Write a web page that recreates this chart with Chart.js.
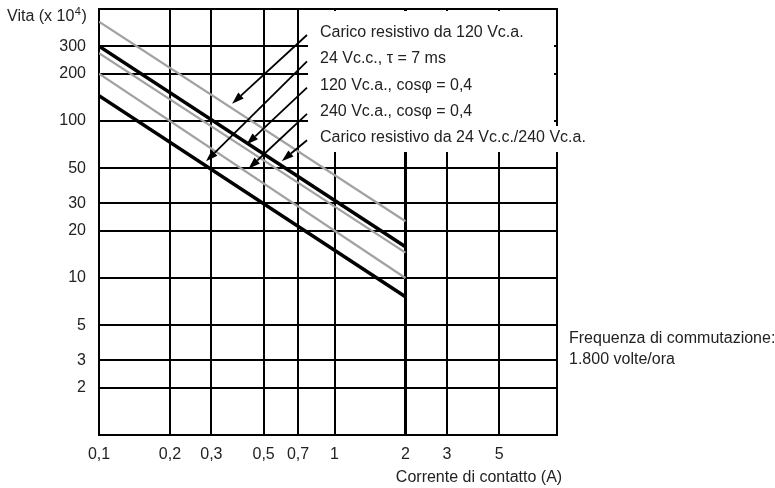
<!DOCTYPE html>
<html><head><meta charset="utf-8">
<script src="https://cdn.jsdelivr.net/npm/chart.js@4/dist/chart.umd.min.js"></script>
<style>html,body{margin:0;padding:0;background:#fff}canvas{display:block}</style>
</head><body>
<canvas id="c" width="775" height="488"></canvas>
<script>
// ---- data ----
const xTicks = [0.1, 0.2, 0.3, 0.5, 0.7, 1, 2, 3, 5];
const xTickLabels = ['0,1', '0,2', '0,3', '0,5', '0,7', '1', '2', '3', '5'];
const yTicks = [2, 3, 5, 10, 20, 30, 50, 100, 200, 300];
const yTickLabels = ['2', '3', '5', '10', '20', '30', '50', '100', '200', '300'];
const current = [0.1, 2];                 // Corrente di contatto (A)
const res120 = [430, 23];                 // Carico resistivo da 120 Vc.a.
const dc24tau = [145, 7.6];               // 24 Vc.c., tau = 7 ms
const ind120 = [270, 14.5];               // 120 Vc.a., cos phi = 0,4
const ind240 = [200, 10];                 // 240 Vc.a., cos phi = 0,4
const res24_240 = [300, 15.8];            // Carico resistivo da 24 Vc.c./240 Vc.a.
const seriesLabels = ['Carico resistivo da 120 Vc.a.', '24 Vc.c., \u03c4 = 7 ms', '120 Vc.a., cos\u03c6 = 0,4', '240 Vc.a., cos\u03c6 = 0,4', 'Carico resistivo da 24 Vc.c./240 Vc.a.'];
const seriesValues = [res120, dc24tau, ind120, ind240, res24_240];
const seriesThick = [false, true, false, false, true];
const arrowAt = [0.357, 0.277, 0.411, 0.419, 0.579]; // current at which each label's arrow points

const FONT = '"Liberation Sans", Arial, Helvetica, sans-serif';
const TEXT = '#222';
const FS = 16;

const datasets = seriesValues.map((vals, i) => ({
  label: seriesLabels[i],
  data: current.map((x, k) => ({x: x, y: vals[k]})),
  borderColor: seriesThick[i] ? '#000' : '#a2a2a2',
  borderWidth: seriesThick[i] ? 3.5 : 2.2,
  pointRadius: 0,
  tension: 0,
  fill: false
}));

function valueAt(vals, x) {
  const lx0 = Math.log10(current[0]), lx1 = Math.log10(current[1]);
  const ly0 = Math.log10(vals[0]), ly1 = Math.log10(vals[1]);
  const t = (Math.log10(x) - lx0) / (lx1 - lx0);
  return Math.pow(10, ly0 + (ly1 - ly0) * t);
}

const overlay = {
  id: 'overlay',
  beforeDatasetsDraw(chart) {
    const {ctx, chartArea: a} = chart;
    ctx.save();
    ctx.strokeStyle = '#000';
    ctx.lineWidth = 2;
    ctx.strokeRect(a.left, a.top, a.right - a.left, a.bottom - a.top);
    // white label panel
    ctx.font = FS + 'px ' + FONT;
    const textX = 320;
    const w = ctx.measureText(seriesLabels[4]).width;
    ctx.fillStyle = '#fff';
    ctx.fillRect(308, a.top + 2, a.right - 3 - 308, 117);
    ctx.fillRect(308, a.top + 117, textX + w + 4 - 308, 26);
    ctx.restore();
  },
  afterDatasetsDraw(chart) {
    const {ctx, chartArea: a, scales} = chart;
    const xs = scales.x, ys = scales.y;
    ctx.save();
    ctx.fillStyle = TEXT;
    ctx.textBaseline = 'middle';
    ctx.textAlign = 'left';
    ctx.font = FS + 'px ' + FONT;
    const textX = 320, row0 = 32.5, step = 26.3;
    seriesLabels.forEach((lab, i) => {
      const ry = row0 + i * step;
      ctx.fillStyle = TEXT;
      ctx.fillText(lab, textX, ry);
      // arrow
      const tx = 307, ty = ry + 2.5;
      const hx = xs.getPixelForValue(arrowAt[i]);
      const hy = ys.getPixelForValue(valueAt(seriesValues[i], arrowAt[i]));
      let dx = hx - tx, dy = hy - ty;
      const L = Math.hypot(dx, dy);
      const ux = dx / L, uy = dy / L;
      const stop = 4;
      const px = hx - ux * stop, py = hy - uy * stop;
      const headL = 12, headW = 4;
      const bx = px - ux * headL, by = py - uy * headL;
      ctx.strokeStyle = '#000';
      ctx.lineWidth = 1.8;
      ctx.beginPath();
      ctx.moveTo(tx, ty);
      ctx.lineTo(bx, by);
      ctx.stroke();
      ctx.fillStyle = '#000';
      ctx.beginPath();
      ctx.moveTo(px, py);
      ctx.lineTo(bx - uy * headW, by + ux * headW);
      ctx.lineTo(bx + uy * headW, by - ux * headW);
      ctx.closePath();
      ctx.fill();
    });
    ctx.fillStyle = TEXT;
    // y axis title
    ctx.font = FS + 'px ' + FONT;
    let x0 = 7;
    ctx.fillText('Vita (x 10', x0, 17);
    x0 += ctx.measureText('Vita (x 10').width;
    ctx.font = '11px ' + FONT;
    ctx.fillText('4', x0 + 0.5, 12);
    x0 += ctx.measureText('4').width + 1;
    ctx.font = FS + 'px ' + FONT;
    ctx.fillText(')', x0, 17);
    // x axis title
    ctx.textAlign = 'center';
    ctx.fillText('Corrente di contatto (A)', 479, 478);
    // note
    ctx.textAlign = 'left';
    ctx.fillText('Frequenza di commutazione:', 569, 339);
    ctx.fillText('1.800 volte/ora', 569, 360);
    ctx.restore();
  }
};

new Chart(document.getElementById('c'), {
  type: 'line',
  data: {datasets: datasets},
  options: {
    responsive: false,
    animation: false,
    events: [],
    layout: {padding: {top: 9, right: 218, bottom: 0, left: 0}},
    plugins: {legend: {display: false}, tooltip: {enabled: false}, title: {display: false}},
    scales: {
      x: {
        type: 'logarithmic',
        min: 0.1, max: 8.8,
        afterBuildTicks: s => { s.ticks = xTicks.map(v => ({value: v})); },
        afterFit: s => { s.height = 53; s.paddingLeft = 0; s.paddingRight = 0; },
        ticks: {
          autoSkip: false, maxRotation: 0, padding: 10,
          color: TEXT, font: {family: FONT, size: FS},
          callback: v => xTickLabels[xTicks.indexOf(v)]
        },
        grid: {color: '#000', lineWidth: c => (c.tick && c.tick.value === 2) ? 3 : 2, drawTicks: false},
        border: {display: true, color: '#000', width: 2}
      },
      y: {
        type: 'logarithmic',
        min: 1, max: 517,
        afterBuildTicks: s => { s.ticks = yTicks.map(v => ({value: v})); },
        afterFit: s => { s.width = 99; s.paddingTop = 0; s.paddingBottom = 0; },
        ticks: {
          autoSkip: false, padding: 13,
          color: TEXT, font: {family: FONT, size: FS},
          callback: v => yTickLabels[yTicks.indexOf(v)]
        },
        grid: {color: '#000', lineWidth: 2, drawTicks: false},
        border: {display: true, color: '#000', width: 2}
      }
    }
  },
  plugins: [overlay]
});
</script>
</body></html>
